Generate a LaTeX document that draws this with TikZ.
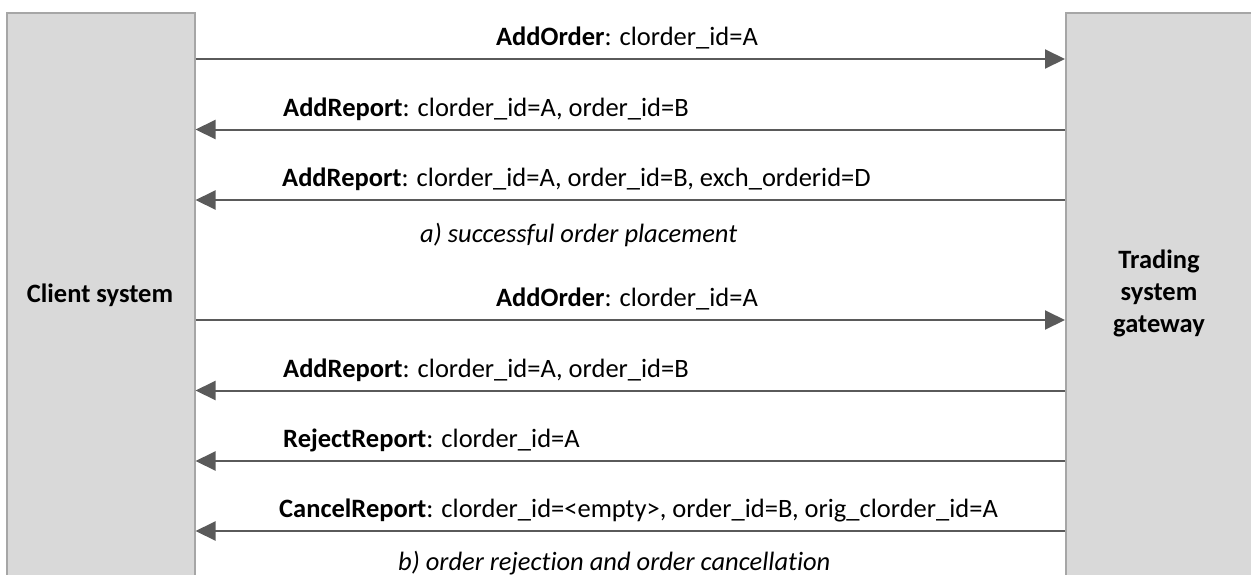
\documentclass[tikz,border=0pt]{standalone}
\usepackage{fontspec}
\setmainfont{Carlito}[Ligatures=NoCommon]
\usetikzlibrary{arrows.meta}
\definecolor{boxfill}{HTML}{D9D9D9}
\definecolor{boxline}{HTML}{A6A6A6}
\definecolor{msgline}{HTML}{5A5A5A}
\tikzset{
  party/.style={draw=boxline, line width=1.5pt, fill=boxfill, inner sep=0pt, anchor=north west, minimum height=620pt},
  msg/.style={draw=msgline, line width=2pt, -{Triangle[length=20pt,width=19pt]}},
  lbl/.style={anchor=base west, inner sep=0pt, font=\fontsize{26.5}{31}\selectfont},
  captxt/.style={anchor=base west, inner sep=0pt, font=\fontsize{26.5}{31}\selectfont\itshape},
  ptext/.style={align=center, inner sep=0pt, font=\fontsize{26.5}{32}\selectfont\bfseries}
}
\begin{document}
\begin{tikzpicture}[x=1pt,y=-1pt]
\useasboundingbox (0,0) rectangle (1251,574);
\clip (0,0) rectangle (1251,574);
\node[party, minimum width=188pt] (client) at (6,12) {};
\node[party, minimum width=190pt] (gw) at (1065,12) {};
\node[ptext, anchor=base] (clientlbl) at (100,302) {Client system};
\node[ptext, anchor=base] (gwlbl) at (1159,332) {Trading\\system\\gateway};
% a)
\draw[msg] (client.east |- 0,59) -- (gw.west |- 0,59);
\node[lbl, anchor=base] (m1) at (627,45.5) {\textbf{AddOrder}: clorder\_id=A};
\draw[msg] (gw.west |- 0,129.5) -- (client.east |- 0,129.5);
\node[lbl] (m2) at (283,116) {\textbf{AddReport}: clorder\_id=A, order\_id=B};
\draw[msg] (gw.west |- 0,200) -- (client.east |- 0,200);
\node[lbl] (m3) at (282,186.5) {\textbf{AddReport}: clorder\_id=A, order\_id=B, exch\_orderid=D};
\node[captxt] (capa) at (420,242) {a) successful order placement};
% b)
\draw[msg] (client.east |- 0,320) -- (gw.west |- 0,320);
\node[lbl, anchor=base] (m4) at (627,306.5) {\textbf{AddOrder}: clorder\_id=A};
\draw[msg] (gw.west |- 0,390.5) -- (client.east |- 0,390.5);
\node[lbl] (m5) at (283,377) {\textbf{AddReport}: clorder\_id=A, order\_id=B};
\draw[msg] (gw.west |- 0,461) -- (client.east |- 0,461);
\node[lbl] (m6) at (283,447.5) {\textbf{RejectReport}: clorder\_id=A};
\draw[msg] (gw.west |- 0,531) -- (client.east |- 0,531);
\node[lbl] (m7) at (279,517.5) {\textbf{CancelReport}: clorder\_id=<empty>, order\_id=B, orig\_clorder\_id=A};
\node[captxt] (capb) at (398,570) {b) order rejection and order cancellation};
\end{tikzpicture}
\end{document}
